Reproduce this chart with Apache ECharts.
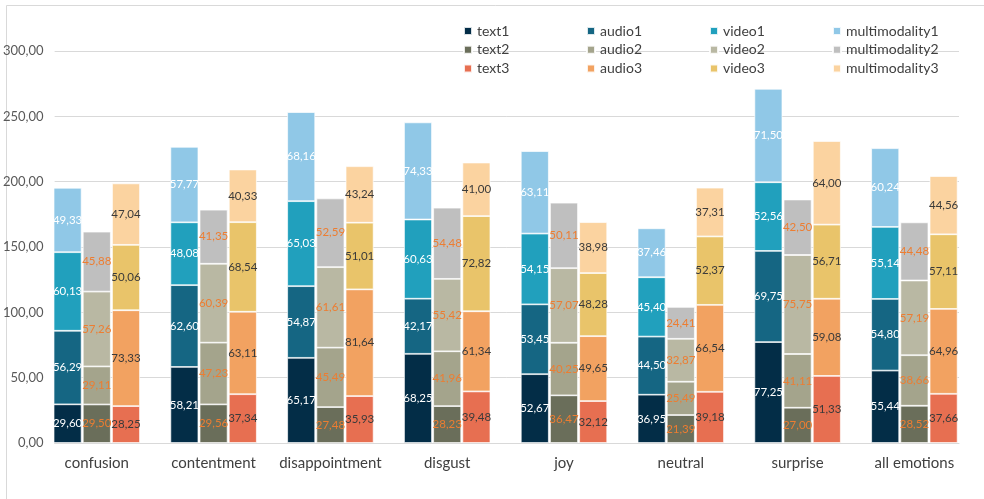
<!DOCTYPE html>
<html>
<head>
<meta charset="utf-8">
<script src="https://cdn.jsdelivr.net/npm/echarts@6/dist/echarts.min.js"></script>
<style>
  html, body { margin: 0; padding: 0; background: #fff; }
  #chart { width: 984px; height: 499px; }
</style>
</head>
<body>
<div id="chart"></div>
<script>
// Emotion categories on the x axis
const categories = ['confusion', 'contentment', 'disappointment', 'disgust', 'joy', 'neutral', 'surprise', 'all emotions'];

// Value axis ticks
const yTicks = { min: 0, max: 300, interval: 50 };

// Group 1
const text1 = [29.60, 58.21, 65.17, 68.25, 52.67, 36.95, 77.25, 55.44];
const audio1 = [56.29, 62.60, 54.87, 42.17, 53.45, 44.50, 69.75, 54.80];
const video1 = [60.13, 48.08, 65.03, 60.63, 54.15, 45.40, 52.56, 55.14];
const multimodality1 = [49.33, 57.77, 68.16, 74.33, 63.11, 37.46, 71.50, 60.24];

// Group 2
const text2 = [29.50, 29.56, 27.48, 28.23, 36.47, 21.39, 27.00, 28.52];
const audio2 = [29.11, 47.23, 45.49, 41.96, 40.25, 25.49, 41.11, 38.66];
const video2 = [57.26, 60.39, 61.61, 55.42, 57.07, 32.87, 75.75, 57.19];
const multimodality2 = [45.88, 41.35, 52.59, 54.48, 50.11, 24.41, 42.50, 44.48];

// Group 3
const text3 = [28.25, 37.34, 35.93, 39.48, 32.12, 39.18, 51.33, 37.66];
const audio3 = [73.33, 63.11, 81.64, 61.34, 49.65, 66.54, 59.08, 64.96];
const video3 = [50.06, 68.54, 51.01, 72.82, 48.28, 52.37, 56.71, 57.11];
const multimodality3 = [47.04, 40.33, 43.24, 41.00, 38.98, 37.31, 64.00, 44.56];

const FONT = 'Lato, "Open Sans", sans-serif';
const fmt = v => v.toFixed(2).replace('.', ',');

const seriesDefs = [
  { name: 'text1', data: text1, stack: 'g1', color: '#032d47', label: '#ffffff' },
  { name: 'audio1', data: audio1, stack: 'g1', color: '#156683', label: '#ffffff' },
  { name: 'video1', data: video1, stack: 'g1', color: '#21a0bd', label: '#ffffff' },
  { name: 'multimodality1', data: multimodality1, stack: 'g1', color: '#90c8e7', label: '#ffffff' },
  { name: 'text2', data: text2, stack: 'g2', color: '#6a6e5a', label: '#ed7d31' },
  { name: 'audio2', data: audio2, stack: 'g2', color: '#a4a48c', label: '#ed7d31' },
  { name: 'video2', data: video2, stack: 'g2', color: '#b9b8a3', label: '#ed7d31' },
  { name: 'multimodality2', data: multimodality2, stack: 'g2', color: '#bfbfbf', label: '#ed7d31' },
  { name: 'text3', data: text3, stack: 'g3', color: '#e76f51', label: '#3a3a3a' },
  { name: 'audio3', data: audio3, stack: 'g3', color: '#f2a261', label: '#3a3a3a' },
  { name: 'video3', data: video3, stack: 'g3', color: '#e9c46a', label: '#3a3a3a' },
  { name: 'multimodality3', data: multimodality3, stack: 'g3', color: '#fbd3a0', label: '#3a3a3a' }
];

const series = seriesDefs.map(s => ({
  name: s.name,
  type: 'bar',
  xAxisIndex: 1,
  yAxisIndex: 1,
  stack: s.stack,
  data: s.data,
  barWidth: 28,
  barGap: '4.3%',
  itemStyle: { color: s.color, borderColor: 'rgba(255,255,255,0.85)', borderWidth: 0.8 },
  label: {
    show: true,
    position: 'inside',
    color: s.label,
    fontFamily: FONT,
    fontSize: 11.5,
    formatter: p => fmt(p.value)
  },
  emphasis: { disabled: true }
}));

const legendColumns = [
  { left: 463, data: ['text1', 'text2', 'text3'] },
  { left: 586, data: ['audio1', 'audio2', 'audio3'] },
  { left: 709, data: ['video1', 'video2', 'video3'] },
  { left: 832, data: ['multimodality1', 'multimodality2', 'multimodality3'] }
];

const legends = legendColumns.map(c => ({
  orient: 'vertical',
  left: c.left,
  top: 23,
  data: c.data,
  icon: 'rect',
  itemWidth: 8,
  itemHeight: 8,
  itemGap: 2.8,
  padding: 0,
  selectedMode: false,
  textStyle: { fontFamily: FONT, fontSize: 14, color: '#404040', lineHeight: 16 }
}));

const chart = echarts.init(document.getElementById('chart'), null, { renderer: 'canvas' });
chart.setOption({
  animation: false,
  backgroundColor: '#ffffff',
  graphic: [{
    type: 'rect',
    shape: { x: 6.5, y: 5.5, width: 1000, height: 600 },
    style: { fill: 'none', stroke: '#d9d9d9', lineWidth: 1 },
    silent: true
  }],
  legend: legends,
  grid: [
    { left: 53, right: 25, top: 51, bottom: 56 },
    { left: 38.4, right: 11.2, top: 51, bottom: 56 }
  ],
  xAxis: [
    {
      gridIndex: 0, type: 'category', data: [''],
      axisLine: { show: true, lineStyle: { color: '#d9d9d9', width: 1 } },
      axisTick: { show: false }, axisLabel: { show: false }
    },
    {
      gridIndex: 1, type: 'category', data: categories,
      axisLine: { show: false }, axisTick: { show: false },
      axisLabel: { interval: 0, fontFamily: FONT, fontSize: 15, color: '#404040', margin: 13 }
    }
  ],
  yAxis: [
    {
      gridIndex: 0, type: 'value', min: yTicks.min, max: yTicks.max, interval: yTicks.interval,
      axisLine: { show: false }, axisTick: { show: false },
      axisLabel: { fontFamily: FONT, fontSize: 13, color: '#595959', margin: 11, formatter: v => fmt(v) },
      splitLine: { lineStyle: { color: '#d9d9d9', width: 1 } }
    },
    {
      gridIndex: 1, type: 'value', min: yTicks.min, max: yTicks.max, interval: yTicks.interval,
      axisLine: { show: false }, axisTick: { show: false },
      axisLabel: { show: false }, splitLine: { show: false }
    }
  ],
  series: series
});
</script>
</body>
</html>
